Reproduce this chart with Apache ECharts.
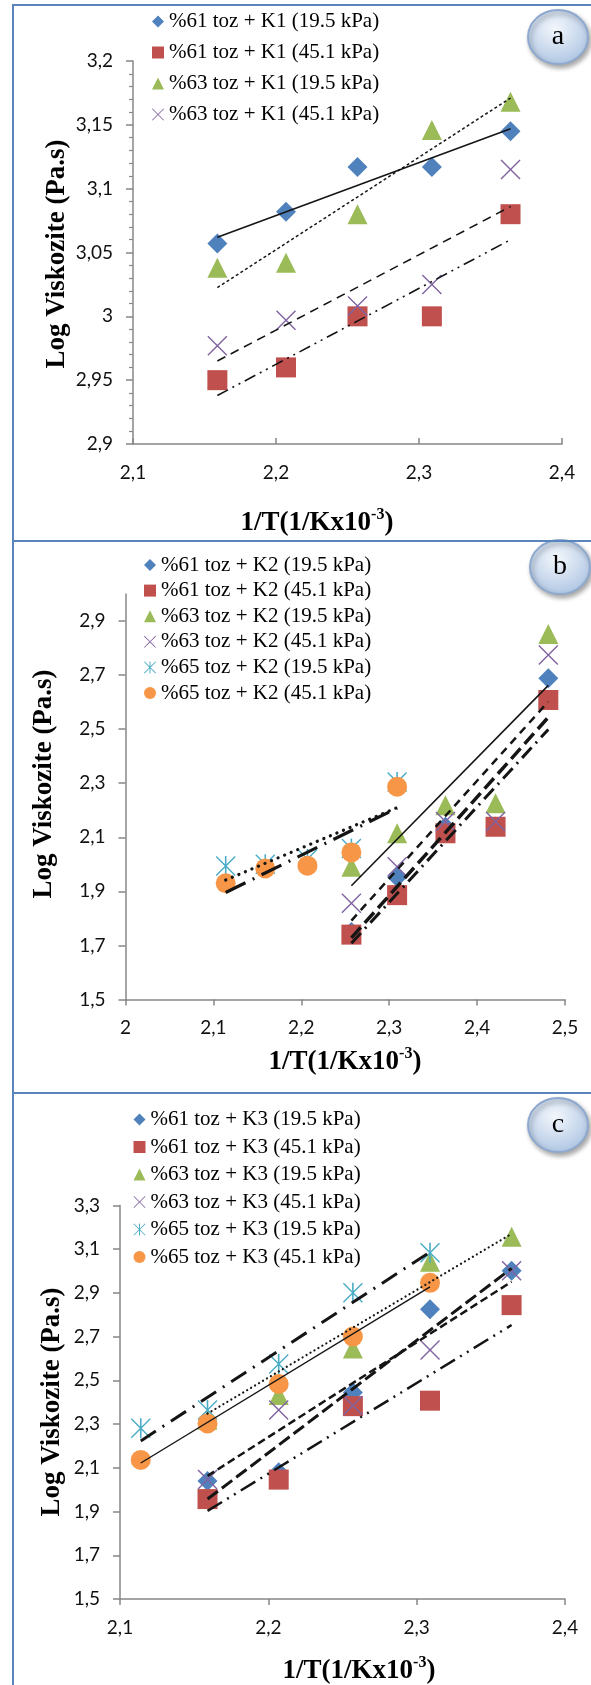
<!DOCTYPE html>
<html><head><meta charset="utf-8">
<script src="https://cdn.jsdelivr.net/npm/echarts@6/dist/echarts.min.js"></script>
<style>html,body{margin:0;padding:0;background:#fff}#c{width:591px;height:1685px}</style>
</head><body><div id="c"></div><script>
// ---------- Panel a (K1) ----------
const xA = [2.159, 2.207, 2.257, 2.309, 2.364];
const a61_195 = [3.057, 3.082, 3.117, 3.117, 3.145];
const a61_451 = [2.950, 2.960, 3.000, 3.000, 3.080];
const a63_195 = [3.038, 3.042, 3.080, 3.146, 3.168];
const a63_451 = [2.977, 2.997, 3.008, 3.025, 3.115];
const trendXA = [2.159, 2.364];
const tA61_195 = [3.062, 3.147];
const tA61_451 = [2.938, 3.060];
const tA63_195 = [3.0225, 3.171];
const tA63_451 = [2.965, 3.086];
const xTicksA = ['2,1', '2,2', '2,3', '2,4'];
const yTicksA = ['2,9', '2,95', '3', '3,05', '3,1', '3,15', '3,2'];
const namesA = ['%61 toz + K1 (19.5 kPa)', '%61 toz + K1 (45.1 kPa)', '%63 toz + K1 (19.5 kPa)', '%63 toz + K1 (45.1 kPa)'];

// ---------- Panel b (K2) ----------
const xB = [2.114, 2.159, 2.207, 2.257, 2.309, 2.364, 2.421, 2.481];
const b61_195 = [null, null, null, 1.750, 1.952, 2.139, 2.140, 2.688];
const b61_451 = [null, null, null, 1.740, 1.886, 2.115, 2.139, 2.608];
const b63_195 = [null, null, null, 1.991, 2.115, 2.219, 2.226, 2.852];
const b63_451 = [null, null, null, 1.856, 1.991, 2.158, 2.158, 2.774];
const b65_195 = [1.994, 2.000, 2.020, 2.059, 2.305, null, null, null];
const b65_451 = [1.930, 1.985, 1.995, 2.044, 2.287, null, null, null];
const trendXB6163 = [2.257, 2.481];
const trendXB65 = [2.114, 2.309];
const tB61_195 = [1.728, 2.544];
const tB61_451 = [1.708, 2.499];
const tB63_195 = [1.921, 2.662];
const tB63_451 = [1.792, 2.602];
const tB65_195 = [1.942, 2.210];
const tB65_451 = [1.896, 2.208];
const xTicksB = ['2', '2,1', '2,2', '2,3', '2,4', '2,5'];
const yTicksB = ['1,5', '1,7', '1,9', '2,1', '2,3', '2,5', '2,7', '2,9'];
const namesB = ['%61 toz + K2 (19.5 kPa)', '%61 toz + K2 (45.1 kPa)', '%63 toz + K2 (19.5 kPa)', '%63 toz + K2 (45.1 kPa)', '%65 toz + K2 (19.5 kPa)', '%65 toz + K2 (45.1 kPa)'];

// ---------- Panel c (K3) ----------
const xC = [2.114, 2.159, 2.207, 2.257, 2.309, 2.364];
const c61_195 = [null, 2.040, 2.080, 2.444, 2.825, 3.001];
const c61_451 = [null, 1.957, 2.046, 2.382, 2.407, 2.844];
const c63_195 = [null, 2.320, 2.433, 2.646, 3.042, 3.157];
const c63_451 = [null, 2.046, 2.364, 2.385, 2.639, 3.001];
const c65_195 = [2.281, 2.364, 2.575, 2.901, 3.083, null];
const c65_451 = [2.136, 2.303, 2.483, 2.700, 2.946, null];
const trendXC6163 = [2.159, 2.364];
const trendXC65 = [2.114, 2.309];
const tC61_195 = [1.957, 3.012];
const tC61_451 = [1.903, 2.753];
const tC63_195 = [2.348, 3.170];
const tC63_451 = [2.063, 2.951];
const tC65_195 = [2.223, 3.087];
const tC65_451 = [2.122, 2.927];
const xTicksC = ['2,1', '2,2', '2,3', '2,4'];
const yTicksC = ['1,5', '1,7', '1,9', '2,1', '2,3', '2,5', '2,7', '2,9', '3,1', '3,3'];
const namesC = ['%61 toz + K3 (19.5 kPa)', '%61 toz + K3 (45.1 kPa)', '%63 toz + K3 (19.5 kPa)', '%63 toz + K3 (45.1 kPa)', '%65 toz + K3 (19.5 kPa)', '%65 toz + K3 (45.1 kPa)'];

// ---------- styling ----------
const FONT_TICK = 'Lato, "Noto Sans", sans-serif';
const FONT_SERIF = '"Liberation Serif", "Times New Roman", serif';
const COL = { blue: '#4F81BD', red: '#C0504D', green: '#9BBB59', purple: '#8064A2', teal: '#4BACC6', orange: '#F79646' };
const AX = '#878787';
const XPATH = 'path://M0,5L5,0L50,45L95,0L100,5L55,50L100,95L95,100L50,55L5,100L0,95L45,50Z';
const STARPATH = 'path://M0,5L5,0L50,45L95,0L100,5L55,50L100,95L95,100L50,55L5,100L0,95L45,50Z M46,0L54,0L54,100L46,100Z';
const SYMS = [
  ['diamond', COL.blue], ['rect', COL.red], ['triangle', COL.green],
  [XPATH, COL.purple], [STARPATH, COL.teal], ['circle', COL.orange]
];

const toVals = labels => labels.map(s => parseFloat(s.replace(',', '.')));
function fmt(labels) {
  const vals = toVals(labels);
  return v => { const i = vals.findIndex(u => Math.abs(u - v) < 1e-6); return i >= 0 ? labels[i] : ''; };
}
function xAxis(gi, min, max, labels, tickInside) {
  const vals = toVals(labels);
  return {
    type: 'value', gridIndex: gi, min, max, interval: 0.1, position: 'bottom',
    axisLine: { show: true, onZero: false, lineStyle: { color: AX, width: 1.5 } },
    axisTick: { show: true, inside: !!tickInside, length: 6, customValues: vals, lineStyle: { color: AX, width: 1.5 } },
    axisLabel: { customValues: vals, formatter: fmt(labels), margin: 19, fontFamily: FONT_TICK, fontSize: 19, color: '#111' },
    splitLine: { show: false }
  };
}
function yAxis(gi, min, max, interval, labels, minor) {
  const vals = toVals(labels);
  return {
    type: 'value', gridIndex: gi, min, max, interval,
    axisLine: { show: true, onZero: false, lineStyle: { color: AX, width: 1.5 } },
    axisTick: { show: true, length: 7, customValues: vals, lineStyle: { color: AX, width: 1.5 } },
    minorTick: minor ? { show: true, splitNumber: 5, length: 4, lineStyle: { color: AX, width: 1.2 } } : { show: false },
    axisLabel: { customValues: vals, formatter: fmt(labels), margin: 20, fontFamily: FONT_TICK, fontSize: 19, color: '#111' },
    splitLine: { show: false }, minorSplitLine: { show: false }
  };
}
function sc(name, xs, ys, k, gi) {
  return {
    type: 'scatter', name, xAxisIndex: gi, yAxisIndex: gi,
    symbol: SYMS[k][0], symbolSize: 20,
    itemStyle: { color: SYMS[k][1], opacity: 1 },
    data: xs.map((x, i) => [x, ys[i]]).filter(p => p[1] != null),
    z: 2, animation: false, silent: true
  };
}
function tr(xs, ys, gi, width, type, cap) {
  return {
    type: 'line', name: 'trend', xAxisIndex: gi, yAxisIndex: gi,
    data: xs.map((x, i) => [x, ys[i]]), symbol: 'none', showSymbol: false,
    lineStyle: { color: '#151515', width, type, cap: cap || 'butt' },
    z: 3, silent: true, animation: false
  };
}
function legend(names, left, top, gap) {
  return {
    orient: 'vertical', left, top, padding: 0, itemGap: gap, itemWidth: 12, itemHeight: 12,
    selectedMode: false, data: names,
    textStyle: { fontFamily: FONT_SERIF, fontSize: 21, color: '#000', lineHeight: 21 }
  };
}
function badge(x, y, letter) {
  return {
    type: 'group', x, y, children: [
      { type: 'circle', shape: { cx: 0, cy: 0, r: 30 }, scaleY: 0.9,
        style: { fill: new echarts.graphic.RadialGradient(0.45, 0.35, 0.75, [{ offset: 0, color: '#f3f7fc' }, { offset: 1, color: '#a6bfe0' }]),
          stroke: '#8ea9cf', lineWidth: 2, shadowBlur: 5, shadowOffsetX: 2, shadowOffsetY: 3, shadowColor: 'rgba(0,0,0,0.35)' } },
      { type: 'text', style: { text: letter, x: 0, y: 0, align: 'center', verticalAlign: 'middle', fontFamily: FONT_SERIF, fontSize: 28, fill: '#000' } }
    ]
  };
}
function xTitle(x, y) {
  return {
    type: 'text', x, y,
    style: {
      text: '{b|1/T(1/Kx10}{s|-3}{b|)}', align: 'center', verticalAlign: 'middle', fill: '#000',
      rich: {
        b: { fontFamily: FONT_SERIF, fontWeight: 'bold', fontSize: 27, fill: '#000', lineHeight: 30, verticalAlign: 'bottom' },
        s: { fontFamily: FONT_SERIF, fontWeight: 'bold', fontSize: 16, fill: '#000', lineHeight: 16, verticalAlign: 'top' }
      }
    }
  };
}
function yTitle(x, y) {
  return {
    type: 'text', x, y, rotation: Math.PI / 2,
    style: { text: 'Log Viskozite (Pa.s)', align: 'center', verticalAlign: 'middle', fontFamily: FONT_SERIF, fontWeight: 'bold', fontSize: 27, fill: '#000' }
  };
}
const BORDER = '#5a84bd';
const bline = (x1, y1, x2, y2) => ({ type: 'line', shape: { x1, y1, x2, y2 }, style: { stroke: BORDER, lineWidth: 2 }, z: 10 });

const DOT = [0.1, 6];
const option = {
  animation: false,
  grid: [
    { left: 133, top: 61, width: 429, height: 383, outerBoundsMode: 'none' },
    { left: 125.5, top: 594, width: 439.5, height: 405.5, outerBoundsMode: 'none' },
    { left: 120, top: 1205.4, width: 445, height: 393.6, outerBoundsMode: 'none' }
  ],
  xAxis: [
    xAxis(0, 2.1, 2.4, xTicksA, true),
    xAxis(1, 2.0, 2.5, xTicksB, false),
    xAxis(2, 2.1, 2.4, xTicksC, false)
  ],
  yAxis: [
    yAxis(0, 2.9, 3.2, 0.05, yTicksA, true),
    yAxis(1, 1.5, 3.0, 0.1, yTicksB, false),
    yAxis(2, 1.5, 3.3, 0.1, yTicksC, false)
  ],
  legend: [
    legend(namesA, 152, 11, 10),
    legend(namesB, 144, 554.5, 4.6),
    legend(namesC, 133.5, 1109, 6.5)
  ],
  series: [
    sc(namesA[0], xA, a61_195, 0, 0),
    sc(namesA[1], xA, a61_451, 1, 0),
    sc(namesA[2], xA, a63_195, 2, 0),
    sc(namesA[3], xA, a63_451, 3, 0),
    tr(trendXA, tA61_195, 0, 1.6, 'solid'),
    tr(trendXA, tA61_451, 0, 1.6, [12, 5, 2, 5, 2, 5]),
    tr(trendXA, tA63_195, 0, 1.5, [3, 2.5]),
    tr(trendXA, tA63_451, 0, 1.6, [9, 6]),

    sc(namesB[0], xB, b61_195, 0, 1),
    sc(namesB[1], xB, b61_451, 1, 1),
    sc(namesB[2], xB, b63_195, 2, 1),
    sc(namesB[3], xB, b63_451, 3, 1),
    sc(namesB[4], xB, b65_195, 4, 1),
    sc(namesB[5], xB, b65_451, 5, 1),
    tr(trendXB6163, tB61_195, 1, 3.5, [14, 6]),
    tr(trendXB6163, tB61_451, 1, 3, [14, 6, 2, 6]),
    tr(trendXB6163, tB63_195, 1, 1.6, 'solid'),
    tr(trendXB6163, tB63_451, 1, 2.5, [8, 6]),
    tr(trendXB65, tB65_195, 1, 3.2, [0.1, 7], 'round'),
    tr(trendXB65, tB65_451, 1, 3.2, [22, 8, 2, 8]),

    sc(namesC[0], xC, c61_195, 0, 2),
    sc(namesC[1], xC, c61_451, 1, 2),
    sc(namesC[2], xC, c63_195, 2, 2),
    sc(namesC[3], xC, c63_451, 3, 2),
    sc(namesC[4], xC, c65_195, 4, 2),
    sc(namesC[5], xC, c65_451, 5, 2),
    tr(trendXC6163, tC61_195, 2, 3, [13, 5]),
    tr(trendXC6163, tC61_451, 2, 2.5, [17, 6, 2, 6, 2, 6]),
    tr(trendXC6163, tC63_195, 2, 2.2, [0.1, 4.5], 'round'),
    tr(trendXC6163, tC63_451, 2, 2.5, [8, 4]),
    tr(trendXC65, tC65_195, 2, 3, [18, 8, 2, 8]),
    tr(trendXC65, tC65_451, 2, 1.4, 'solid')
  ],
  graphic: [
    bline(13, 5, 591, 5), bline(13, 541, 591, 541), bline(13, 1093, 591, 1093), bline(13, 4, 13, 1685),
    badge(558, 37, 'a'), badge(560, 567, 'b'), badge(558, 1125, 'c'),
    xTitle(317, 522), yTitle(57, 254),
    xTitle(345, 1061), yTitle(44, 784),
    xTitle(359, 1670), yTitle(52, 1402)
  ]
};
const chart = echarts.init(document.getElementById('c'), null, { renderer: 'canvas', width: 591, height: 1685 });
chart.setOption(option);
</script></body></html>
